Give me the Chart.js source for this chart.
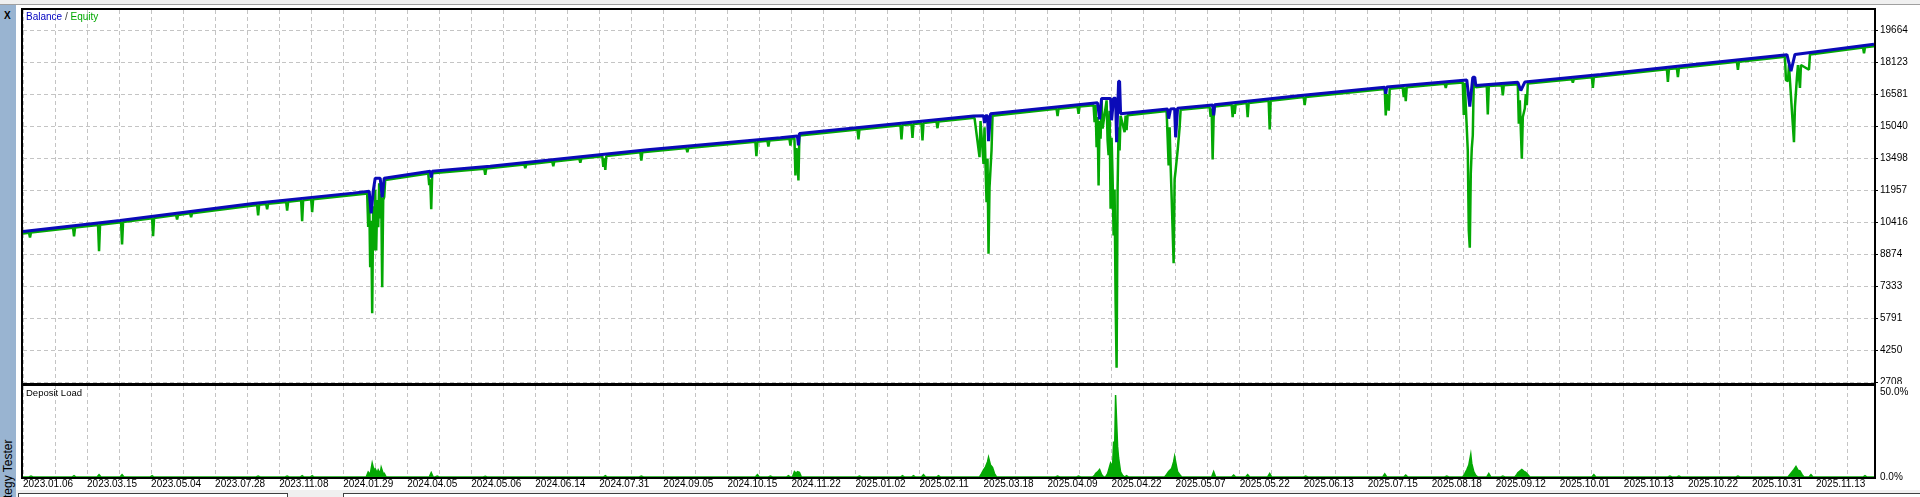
<!DOCTYPE html>
<html>
<head>
<meta charset="utf-8">
<script src="https://cdn.jsdelivr.net/npm/chart.js@4.4.1/dist/chart.umd.min.js"></script>
<style>
body { margin:0; width:1920px; height:497px; overflow:hidden; background:#fff; position:relative; font-family:"Liberation Sans", Arial, sans-serif; }
.caja { position:absolute; }
#barraSup { left:0; top:0; width:1920px; height:4px; background:#f0f0f0; border-bottom:1px solid #a0a0a0; }
#lateral { left:0; top:5px; width:16px; height:492px; background:#99b4d1; overflow:hidden; z-index:5; }
#cerrar { position:absolute; left:4px; top:5px; font:bold 10px "Liberation Sans", Arial, sans-serif; color:#000; }
#titulo { position:absolute; left:1px; top:515px; transform:rotate(-90deg); transform-origin:left top; white-space:nowrap; font:12px "Liberation Sans", Arial, sans-serif; color:#000; }
#g1 { left:0; top:0; width:1920px; height:384px; }
#g2 { left:0; top:384px; width:1920px; height:113px; }
#leyenda { left:26px; top:11px; font-size:10px; z-index:4; }
#carga { left:26px; top:387px; font-size:9.5px; color:#000; z-index:4; }
#barraInf { left:16px; top:490px; width:1904px; height:7px; background:#f0f0f0; }
#pest1 { left:18px; top:493px; width:268px; height:8px; border:1px solid #404040; background:#fff; }
#pest2 { left:343px; top:493px; width:1580px; height:8px; border:1px solid #404040; background:#fff; }
</style>
</head>
<body>
<div class="caja" id="barraSup"></div>
<div class="caja" id="g1"><canvas id="grafica1"></canvas></div>
<div class="caja" id="g2"><canvas id="grafica2"></canvas></div>
<div class="caja" id="barraInf"></div>
<div class="caja" id="pest1"></div>
<div class="caja" id="pest2"></div>
<div class="caja" id="lateral"><div id="cerrar">X</div><div id="titulo">Strategy Tester</div></div>
<div class="caja" id="leyenda"><span style="color:#0000c0">Balance</span><span style="color:#404040"> / </span><span style="color:#00a800">Equity</span></div>
<div class="caja" id="carga">Deposit Load</div>
<script>
Chart.defaults.font.family = '"Liberation Sans", Arial, sans-serif';
Chart.defaults.font.size = 10;
Chart.defaults.color = '#000';

/*------------------------- DATOS -------------------------*/
const dateLabels = ['2023.01.06','2023.03.15','2023.05.04','2023.07.28','2023.11.08','2024.01.29','2024.04.05',
    '2024.05.06','2024.06.14','2024.07.31','2024.09.05','2024.10.15','2024.11.22','2025.01.02','2025.02.11',
    '2025.03.18','2025.04.09','2025.04.22','2025.05.07','2025.05.22','2025.06.13','2025.07.15','2025.08.18',
    '2025.09.12','2025.10.01','2025.10.13','2025.10.22','2025.10.31','2025.11.13'];
const dealsPerLabel = 32;   // deals between two date labels
const totalDeals = 925;

const balanceTicks = [2708, 4250, 5791, 7333, 8874, 10416, 11957, 13498, 15040, 16581, 18123, 19664];
const loadTicks = [0, 50];

// [deal, balance]
const balanceSeries = [[0,9980],[48.5,10510],[115,11330],[165,11830],[173,11920],[174,10850],[175,11920],
    [176,12550],[178.5,12550],[179.5,11630],[180.5,12550],[203.5,12880],[204,12580],[204.5,12880],[233.5,13120],
    [312,13920],[378.5,14500],[387,14580],[387.5,14130],[388,14700],[475,15540],[480,15560],[480.5,15200],
    [481,15560],[482,15560],[482.5,14330],[483.5,15650],[488.5,15700],[537,16180],[538,15380],[539,16390],
    [543.5,16390],[544,15340],[545,16400],[546,16400],[546.5,14280],[547.5,17220],[548,17220],[548.5,15650],
    [572,15880],[572.5,15420],[573.5,15880],[575.5,15900],[576,14520],[577,15920],[594.5,16080],[595,15580],
    [595.5,16090],[638.5,16530],[680.5,16930],[681,16610],[681.5,16940],[721.5,17280],[723,16000],[724.5,17410],
    [725.5,17410],[726,17020],[747,17170],[748.5,16770],[750.5,17180],[788.5,17545],[838.5,18060],[881.5,18500],
    [883.5,17700],[885.5,18510],[925,19000]];

// [deal, equity]
const equitySeries = [[0,9890],[3,9925],[3.5,9693],[4,9930],
    [25,10165],[25.5,9742],[26,10170],[37.5,10300],[38,9033],[38.5,10310],
    [49,10430],[49.5,9355],[50,10435],[64.5,10620],[65,9756],[65.5,10628],
    [76.5,10770],[77,10560],[77.5,10775],[83.5,10855],[84,10671],[84.5,10860],
    [117,11262],[117.5,10753],[118,11268],[121.5,11307],[122,11056],[122.5,11312],
    [131.5,11407],[132,10993],[132.5,11412],[139,11482],[139.5,10478],[140,11488],
    [144,11532],[144.5,10913],[145,11538],
    [171,11800],[172,11805],[172.5,10200],[173,11700],[173.5,8262],[174,10500],[174.5,6046],[175,11200],
    [175.5,9067],[176,12000],[176.5,9067],[177,11500],[177.5,10189],[178,12300],[178.5,10608],[179,11800],
    [179.5,7299],[180,11500],[180.5,11634],[181,12460],
    [202.5,12777],[203,12212],[203.5,12500],[204,11056],[204.5,12790],
    [230.5,13005],[231,12713],[231.5,13010],[250.5,13205],[251,13031],[251.5,13210],
    [264.5,13348],[265,13127],[265.5,13353],[278,13486],[278.5,13291],[279,13492],
    [289.5,13605],[290,13100],[290.5,13500],[291,12954],[291.5,13615],
    [308.5,13797],[309,13402],[309.5,13803],[331.5,14000],[332,13802],[332.5,14008],
    [366,14302],[366.5,13609],[367,14308],[372,14355],[372.5,14077],[373,14360],
    [383,14450],[383.5,14125],[384,14460],[385.5,14470],[386,12679],[386.5,14000],[387,13500],[387.5,12438],[388,14610],
    [417,14890],[417.5,14414],[418,14898],[438.5,15100],[439,14414],[439.5,15106],
    [444,15152],[444.5,14495],[445,15160],[449,15200],[449.5,14366],[450,15208],
    [456.5,15274],[457,14958],[457.5,15280],
    [475.5,15455],[478,13561],[478.5,15300],[480,13239],[480.5,15000],[481.5,11393],[482,13500],[482.5,8908],
    [483,12117],[484,13882],[484.5,15560],
    [516.5,15890],[517,15536],[517.5,15895],[527,15993],[527.5,15651],[528,15998],
    [535,16060],[535.5,15247],[536,16070],[536.5,14043],[537,15500],[537.5,12198],[538,15300],[538.5,14447],
    [539,16300],[539.5,14943],[541.5,16300],[542,14366],[542.5,13658],[543,15800],[543.5,11075],[544,14500],
    [544.5,12597],[545,9789],[545.5,12000],[546,6658],[546.5,3417],[547,12039],[547.5,15000],[548,13882],
    [548.5,15560],[550.5,14768],[551,15570],[551.5,14861],[552,15580],
    [571.5,15785],[572,14495],[572.5,13161],[573,15000],[573.5,13161],[574,11653],[575,8455],[575.5,12500],
    [576,12920],[577,13882],[578,15002],[578.5,15840],
    [593,15975],[593.5,15507],[594,15900],[594.5,13450],[595,15490],[595.5,16000],
    [604,16090],[604.5,15488],[605,16095],[605.5,15651],[606,16100],
    [611.5,16165],[612,15488],[612.5,16170],[622.5,16277],[623,14895],[623.5,16283],
    [640,16456],[640.5,16066],[641,16461],
    [680.5,16840],[681,15570],[681.5,16600],[682.5,15800],[683,16855],
    [689.5,16918],[690,16451],[690.5,16925],[691,16258],[691.5,16930],
    [710.5,17098],[711,16901],[711.5,17104],
    [719.5,17160],[720,15600],[720.5,17150],[722,13882],[722.5,10030],[723,9200],[723.5,12760],[724,14000],
    [724.5,14606],[725,17320],[726,16930],
    [731.5,16990],[732,15618],[732.5,16995],[739,17024],[739.5,16533],[740,17028],
    [747,17075],[747.5,15170],[748,16300],[749,13484],[749.5,15500],[750.5,15906],[751,16600],[751.5,16066],[752,17110],
    [774,17318],[774.5,17150],[775,17322],[784,17415],[784.5,16901],[785,17420],
    [821.5,17797],[822,17193],[822.5,17803],[826.5,17848],[827,17414],[827.5,17855],
    [856.5,18155],[857,17771],[857.5,18162],
    [880.5,18400],[881,17270],[882,17225],[882.5,18000],[885,14283],[885.5,16000],[886.5,17414],[887,18000],
    [888,16901],[888.5,18000],[892.5,17771],[893,18505],
    [919.5,18850],[920,18571],[920.5,18856],[925,18910]];

// [deal, deposit load %]
const loadSeries = [[0,0],[3,0],[4,0.6],[5,0],[24.5,0],[25.5,0.8],[26.5,0],[37,0],[38,1.4],[39,0],
    [48.5,0],[49.5,1.4],[50.5,0],[63.5,0],[64.5,0.8],[65.5,0],[116.5,0],[117.5,0.6],[118.5,0],
    [131,0],[132,0.6],[133,0],[138.5,0],[139.5,0.8],[140.5,0],[143.5,0],[144.5,0.8],[145.5,0],
    [171.5,0],[172.5,3],[173.5,1.5],[174.5,8.2],[175.5,3.5],[176,4.8],[177,2.5],[177.5,4.2],[178.5,2],
    [179,5.6],[180,2],[180.5,2.2],[181.5,0],
    [203,0],[204,2.6],[205,0],[206,0],[207,0.6],[208,0],[230,0],[231,0.4],[232,0],
    [290,0],[291,0.8],[292,0],[308,0],[309,0.6],[310,0],[366,0],[367,1.4],[368,0],
    [372.5,0],[373.5,0.6],[374.5,0],[381.5,0],[382.5,0.8],[383.5,0],
    [384.5,0],[385.5,3.2],[386.5,2],[387,3.2],[388,2.8],[389,0],
    [417,0],[418,0.6],[419,0],[438.5,0],[439.5,0.8],[440.5,0],[444,0],[445,0.8],[446,0],
    [449,0],[450,1.4],[451,0],[456.5,0],[457.5,0.8],[458.5,0],
    [478,0],[479,2],[480,4.2],[481,6],[482,9],[482.5,11.6],[483.5,7],[484.5,5.6],[485.5,2],[486.5,0],
    [516,0],[517,0.6],[518,0],[526.5,0],[527.5,0.6],[528.5,0],
    [534.5,0],[535.5,1],[536,2],[537,3],[538,4.4],[539,1.5],[540,0],
    [541,0],[542,2],[543.5,8.2],[544.5,6],[545,20.8],[545.5,15],[546,48.2],[547,18],[547.5,11.2],
    [548.5,3],[549.5,1],[550.5,0],[551.5,0.8],[552.5,0],
    [570.5,0],[571.5,1.5],[572.5,3.2],[574,5],[575,9],[575.5,12.2],[576.5,6],[577,3.2],[578,1.5],[579,0],
    [594,0],[595,3.2],[596,0],[604,0],[605,1.2],[606,0],[611,0],[612,1.4],[613,0],
    [622,0],[623,2],[624,0],[640,0],[641,0.6],[642,0],[679.5,0],[680.5,1.8],[681.5,0],
    [690,0],[691,1.2],[692,0],[710.5,0],[711.5,0.6],[712.5,0],
    [719.5,0],[720.5,2],[721.5,4.2],[722.5,7],[723.5,13.4],[724,8],[725,3.2],[726,1],[727,0],
    [731.5,0],[732.5,2],[733.5,0],[738.5,0],[739.5,0.6],[740.5,0],
    [745.5,0],[746.5,1.5],[747,2.5],[748,3.5],[749,4.4],[750,3.5],[751,2.8],[752,1.5],[753,0],
    [784,0],[785,1.4],[786,0],[822,0],[823,0.6],[824,0],[826.5,0],[827.5,0.6],[828.5,0],
    [856,0],[857,0.6],[858,0],
    [882,0],[883,1.5],[884,3],[885,4.5],[886,6.2],[887,4],[888,3.6],[889,1.5],[890,0],
    [892.5,0],[893.5,1.4],[894.5,0],[919.5,0],[920.5,0.8],[921.5,0],[925,0]];

const aPuntos = serie => serie.map(p => ({x: p[0], y: p[1]}));

/*------------------------- ESTILO -------------------------*/
const azul = '#0a0ab8';
const verde = '#04a804';
const rejilla = '#c4c4c4';

const marco = {
    id: 'marco',
    beforeDatasetsDraw(chart) {
        const a = chart.chartArea, ctx = chart.ctx;
        ctx.save();
        ctx.fillStyle = '#000';
        ctx.fillRect(a.left - 2, a.top - 2, a.right - a.left + 4, 2);
        ctx.fillRect(a.left - 2, a.bottom, a.right - a.left + 4, 2);
        ctx.fillRect(a.left - 2, a.top - 2, 2, a.bottom - a.top + 4);
        ctx.fillRect(a.right, a.top - 2, 2, a.bottom - a.top + 4);
        ctx.restore();
    }
};

function escalaX(conFechas) {
    return {
        type: 'linear',
        min: 0,
        max: totalDeals,
        border: {display: false, dash: [4, 3]},
        grid: {color: rejilla, drawTicks: false},
        ticks: {
            display: conFechas,
            autoSkip: false,
            maxRotation: 0,
            minRotation: 0,
            align: 'start',
            padding: 1,
            callback: v => (v % dealsPerLabel === 0 ? dateLabels[v / dealsPerLabel] : '')
        },
        afterBuildTicks(s) {
            const t = [];
            for (let v = 0; v <= totalDeals; v += dealsPerLabel / 2) t.push({value: v});
            s.ticks = t;
        },
        afterFit(s) {
            s.height = conFechas ? 20 : 0;
            s.paddingLeft = 0;
            s.paddingRight = 0;
        }
    };
}

function ajustarY(s) {
    s.width = 46;
    s.paddingTop = 0;
    s.paddingBottom = 0;
}

/*------------------------- GRAFICA 1 -------------------------*/
const grafica1 = new Chart(document.getElementById('grafica1'), {
    type: 'line',
    data: {
        datasets: [{
            label: 'Balance',
            data: aPuntos(balanceSeries),
            borderColor: azul,
            borderWidth: 3,
            borderJoinStyle: 'bevel',
            pointRadius: 0
        }, {
            label: 'Equity',
            data: aPuntos(equitySeries),
            borderColor: verde,
            borderWidth: 2.5,
            borderJoinStyle: 'bevel',
            pointRadius: 0
        }]
    },
    options: {
        responsive: true,
        maintainAspectRatio: false,
        animation: false,
        layout: {padding: {left: 23, top: 10, right: 0, bottom: 1}},
        plugins: {legend: {display: false}, tooltip: {enabled: false}},
        scales: {
            x: escalaX(false),
            y: {
                position: 'right',
                min: 2684,
                max: 20651,
                border: {display: false, dash: [4, 3]},
                grid: {color: rejilla, tickLength: 4, tickColor: '#000', tickBorderDash: [1, 0]},
                ticks: {padding: 2, callback: v => String(v)},
                afterBuildTicks(s) { s.ticks = balanceTicks.map(v => ({value: v})); },
                afterFit: ajustarY
            }
        }
    },
    plugins: [marco]
});

/*------------------------- GRAFICA 2 -------------------------*/
const grafica2 = new Chart(document.getElementById('grafica2'), {
    type: 'line',
    data: {
        datasets: [{
            label: 'Deposit Load',
            data: aPuntos(loadSeries),
            borderColor: verde,
            backgroundColor: verde,
            borderWidth: 1.5,
            fill: 'origin',
            pointRadius: 0
        }]
    },
    options: {
        responsive: true,
        maintainAspectRatio: false,
        animation: false,
        layout: {padding: {left: 23, top: 2, right: 0, bottom: 0}},
        plugins: {legend: {display: false}, tooltip: {enabled: false}},
        scales: {
            x: escalaX(true),
            y: {
                position: 'right',
                min: 0,
                max: 53.5,
                border: {display: false},
                grid: {drawOnChartArea: false, drawTicks: false},
                ticks: {padding: 6, callback: v => v.toFixed(1) + '%'},
                afterBuildTicks(s) { s.ticks = loadTicks.map(v => ({value: v})); },
                afterFit: ajustarY
            }
        }
    },
    plugins: [marco]
});
</script>
</body>
</html>
